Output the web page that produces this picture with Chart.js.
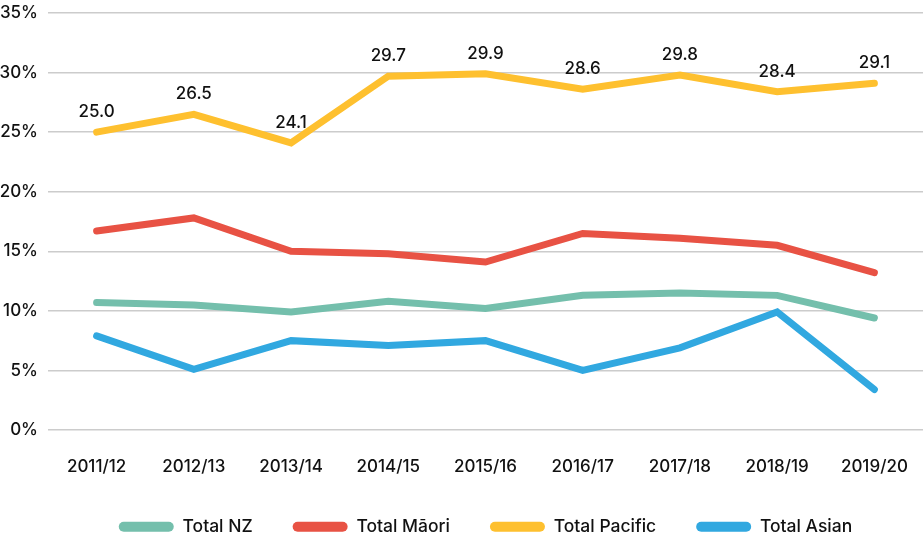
<!DOCTYPE html>
<html lang="en">
<head>
    <meta charset="UTF-8">
    <title>Ethnic group rates</title>
    <script src="https://cdn.jsdelivr.net/npm/chart.js"></script>
    <style>
        html, body { margin: 0; padding: 0; background: #fff; }
        #wrap { width: 923px; height: 538px; }
    </style>
</head>
<body>
    <div id="wrap"><canvas id="chartCanvas"></canvas></div>

    <script>
        const years = ['2011/12', '2012/13', '2013/14', '2014/15', '2015/16', '2016/17', '2017/18', '2018/19', '2019/20'];
        const totalNZ = [10.7, 10.5, 9.9, 10.8, 10.2, 11.3, 11.5, 11.3, 9.4];
        const totalMaori = [16.7, 17.8, 15.0, 14.8, 14.1, 16.5, 16.1, 15.5, 13.2];
        const totalPacific = [25.0, 26.5, 24.1, 29.7, 29.9, 28.6, 29.8, 28.4, 29.1];
        const totalAsian = [7.9, 5.1, 7.5, 7.1, 7.5, 5.0, 6.9, 9.9, 3.4];
        const yTicks = [0, 5, 10, 15, 20, 25, 30, 35];

        const FONT = 'Inter, "Open Sans", sans-serif';
        const TEXT = { family: FONT, size: 17, weight: '500' };

        function series(label, values, color, showValues) {
            return {
                label: label,
                data: values,
                borderColor: color,
                backgroundColor: color,
                borderWidth: 7,
                borderCapStyle: 'round',
                borderJoinStyle: 'miter',
                pointRadius: 0,
                pointHoverRadius: 0,
                tension: 0,
                showValues: showValues
            };
        }

        // writes the value above each point for series flagged with showValues
        const valueLabels = {
            id: 'valueLabels',
            afterDatasetsDraw(chart) {
                const c = chart.ctx;
                chart.data.datasets.forEach((ds, i) => {
                    if (!ds.showValues) return;
                    const meta = chart.getDatasetMeta(i);
                    c.save();
                    c.font = '500 17px ' + FONT;
                    c.fillStyle = '#111';
                    c.textAlign = 'center';
                    c.textBaseline = 'middle';
                    meta.data.forEach((pt, j) => {
                        c.fillText(ds.data[j].toFixed(1), pt.x, pt.y - 20);
                    });
                    c.restore();
                });
            }
        };

        // keep the legend block short so it sits close under the axis labels
        const legendHeight = {
            id: 'legendHeight',
            afterInit(chart) {
                const legend = chart.legend;
                if (!legend) return;
                const fit = legend.fit;
                legend.fit = function () {
                    fit.call(this);
                    this.height = 60;
                };
            }
        };

        const defaultLabels = Chart.defaults.plugins.legend.labels.generateLabels;

        const ctx = document.getElementById('chartCanvas').getContext('2d');
        const chart = new Chart(ctx, {
            type: 'line',
            data: {
                labels: years,
                datasets: [
                    series('Total NZ', totalNZ, '#74bfac', false),
                    series('Total Māori', totalMaori, '#e85244', false),
                    series('Total Pacific', totalPacific, '#fec02f', true),
                    series('Total Asian', totalAsian, '#31a8e0', false)
                ]
            },
            plugins: [valueLabels, legendHeight],
            options: {
                responsive: true,
                maintainAspectRatio: false,
                animation: false,
                layout: { padding: 0 },
                plugins: {
                    tooltip: { enabled: false },
                    legend: {
                        position: 'bottom',
                        fullSize: false,
                        labels: {
                            boxWidth: 55,
                            boxHeight: 10,
                            useBorderRadius: true,
                            borderRadius: 5,
                            padding: 40,
                            color: '#111',
                            font: { family: FONT, size: 17.5, weight: '500' },
                            generateLabels: (chart) => defaultLabels(chart).map(item => {
                                item.lineWidth = 0;
                                return item;
                            })
                        }
                    }
                },
                scales: {
                    x: {
                        offset: true,
                        grid: { display: false, drawTicks: false },
                        border: { display: false },
                        afterFit: (axis) => {
                            axis.height = 48;
                            axis.paddingLeft = 0;
                            axis.paddingRight = 0;
                        },
                        ticks: {
                            color: '#111',
                            padding: 27,
                            font: TEXT
                        }
                    },
                    y: {
                        min: 0,
                        max: 35,
                        afterBuildTicks: (axis) => {
                            axis.ticks = yTicks.map(v => ({ value: v }));
                        },
                        afterFit: (axis) => {
                            axis.width = 48;
                            axis.paddingTop = 13;
                            axis.paddingBottom = 0;
                        },
                        grid: { color: '#cccccc', lineWidth: 1.5, drawTicks: false },
                        border: { display: false },
                        ticks: {
                            color: '#111',
                            padding: 10,
                            font: TEXT,
                            callback: (v) => v + '%'
                        }
                    }
                }
            }
        });
    </script>
</body>
</html>
